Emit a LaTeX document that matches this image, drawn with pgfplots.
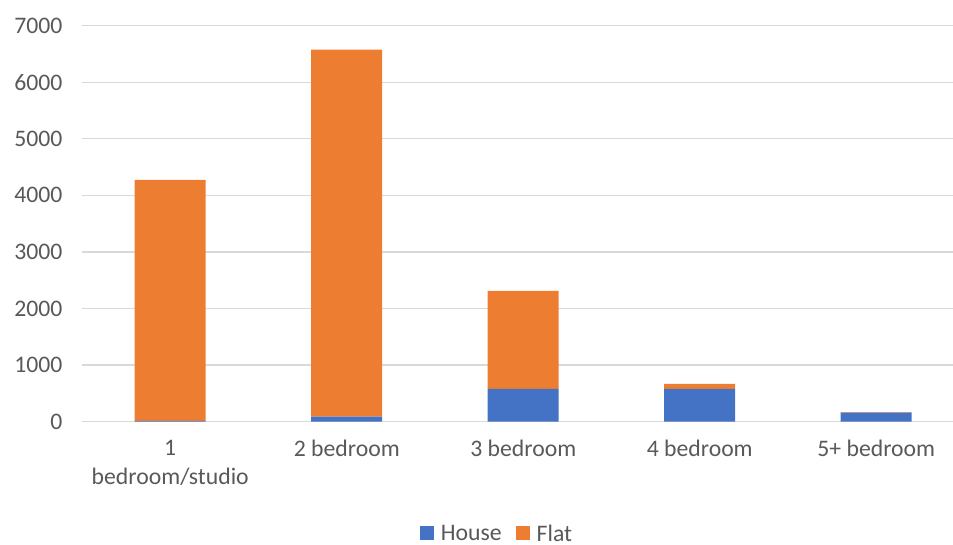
\documentclass[border=0pt]{standalone}
\usepackage{pgfplots}
\pgfplotsset{compat=1.18}
\usepackage{fontspec}
\setmainfont{Carlito}
\definecolor{houseblue}{HTML}{4472C4}
\definecolor{flatorange}{HTML}{ED7D31}
\definecolor{gridgray}{HTML}{D9D9D9}
\definecolor{txtgray}{HTML}{595959}
\begin{document}
\begin{tikzpicture}
\path[use as bounding box] (0,0) rectangle (953bp,545bp);
\begin{axis}[
  at={(82bp,123.5bp)}, anchor=south west,
  scale only axis,
  width=871bp, height=395.8bp,
  ybar stacked,
  bar width=71bp,
  xmin=-0.5, xmax=4.435,
  ymin=0, ymax=7000,
  ytick={0,1000,...,7000},
  xtick={0,1,2,3,4},
  xticklabels={{1\\bedroom/studio},{2 bedroom},{3 bedroom},{4 bedroom},{5+ bedroom}},
  axis x line*=bottom,
  axis y line*=left,
  y axis line style={draw=none},
  x axis line style={gridgray, line width=1.5bp},
  xtick style={draw=none}, ytick style={draw=none},
  ymajorgrids,
  grid style={gridgray, line width=1.3bp},
  /pgf/number format/assume math mode=true,
  /pgf/number format/1000 sep={},
  tick label style={font=\fontsize{23.8}{29}\selectfont, text=txtgray},
  yticklabel style={xshift=-16bp},
  xticklabel style={align=center, yshift=-15bp},
  legend style={at={(0.4765,-0.2812)}, anchor=center, draw=none,
    inner sep=0pt,
    nodes={inner ysep=0pt, text depth=0pt},
    font=\fontsize{23.8}{29}\selectfont, text=txtgray,
    legend columns=2,
    /tikz/every odd column/.append style={column sep=5bp},
    /tikz/every even column/.append style={column sep=12bp}},
  legend image code/.code={\fill[#1] (0bp,-7bp) rectangle (14bp,7bp);},
]
\addplot[fill=houseblue, draw=none] coordinates {(0,10) (1,85) (2,575) (3,575) (4,155)};
\addplot[fill=flatorange, draw=none] coordinates {(0,4265) (1,6490) (2,1735) (3,90) (4,13)};
\legend{House, Flat}
\end{axis}
\end{tikzpicture}
\end{document}
